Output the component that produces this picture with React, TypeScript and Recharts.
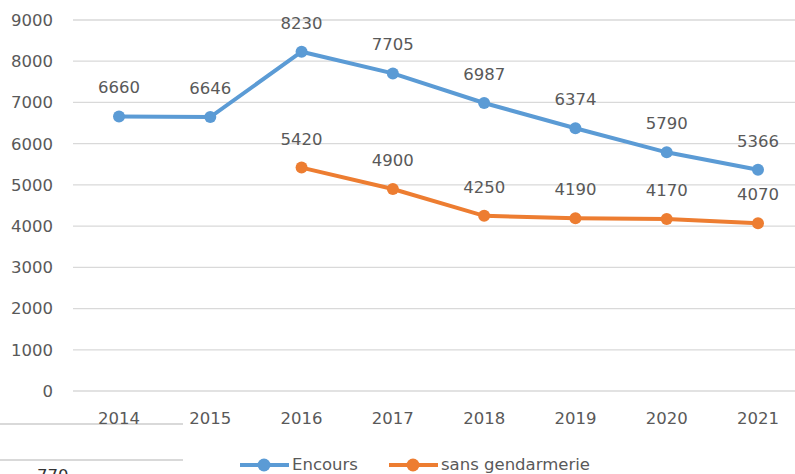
import React from 'react';
import { LineChart, Line, XAxis, YAxis, CartesianGrid, Legend, LabelList } from 'recharts';

const years = ['2014', '2015', '2016', '2017', '2018', '2019', '2020', '2021'];
const encours = [6660, 6646, 8230, 7705, 6987, 6374, 5790, 5366];
const sansGendarmerie: (number | null)[] = [null, null, 5420, 4900, 4250, 4190, 4170, 4070];
const yTicks = [0, 1000, 2000, 3000, 4000, 5000, 6000, 7000, 8000, 9000];
const seriesNames = ['Encours', 'sans gendarmerie'];
const strayText = '770';

const BLUE = '#5B9BD5';
const ORANGE = '#ED7D31';
const TEXT = '#595959';
const GRID = '#D9D9D9';
const FONT = '"DejaVu Sans", sans-serif';
const FS = 16.5;

const data = years.map((y, i) => ({ year: y, encours: encours[i], sans: sansGendarmerie[i] }));

const LegendContent = (props: any) => {
  const payload = props.payload || [];
  return (
    <div style={{ display: 'flex', flexDirection: 'row', alignItems: 'center', height: 18, fontFamily: FONT, fontSize: FS, color: TEXT }}>
      {payload.map((p: any, i: number) => (
        <div key={i} style={{ display: 'flex', alignItems: 'center', width: i === 0 ? 149 : 'auto', whiteSpace: 'nowrap' }}>
          <svg width={49} height={18} style={{ display: 'block' }}>
            <line x1={0} y1={9} x2={49} y2={9} stroke={p.color} strokeWidth={4} />
            <circle cx={24} cy={9} r={6.5} fill={p.color} />
          </svg>
          <span style={{ marginLeft: 3, lineHeight: '18px' }}>{p.value}</span>
        </div>
      ))}
    </div>
  );
};

export default function App() {
  return (
    <div style={{ position: 'absolute', left: 0, top: 0, width: 795, height: 474, overflow: 'hidden', background: '#fff' }}>
      <div style={{ position: 'absolute', left: 0, top: 423, width: 183, height: 1.5, background: GRID }} />
      <div style={{ position: 'absolute', left: 0, top: 459, width: 183, height: 1.5, background: GRID }} />
      <div style={{ position: 'absolute', left: 37, top: 466, fontFamily: FONT, fontSize: FS, color: '#333', lineHeight: '20px' }}>{strayText}</div>
      <LineChart width={810} height={474} data={data} margin={{ top: 20, right: 6, left: 0, bottom: 0 }}>
        <CartesianGrid vertical={false} stroke={GRID} strokeWidth={1.3} />
        <XAxis
          dataKey="year"
          axisLine={false}
          tickLine={false}
          tickSize={0}
          tickMargin={21}
          height={65}
          padding={{ left: 46, right: 46 }}
          tick={{ fill: TEXT, fontSize: FS, fontFamily: FONT }}
        />
        <YAxis
          domain={[0, 9000]}
          ticks={yTicks}
          width={73}
          axisLine={false}
          tickLine={false}
          tickSize={0}
          tickMargin={20}
          interval={0}
          tick={{ fill: TEXT, fontSize: FS, fontFamily: FONT }}
        />
        <Legend verticalAlign="bottom" height={18} content={<LegendContent />} wrapperStyle={{ left: 240, width: 420, bottom: 0, height: 18 }} />
        <Line
          type="linear"
          dataKey="encours"
          name={seriesNames[0]}
          stroke={BLUE}
          strokeWidth={4}
          dot={{ r: 6, fill: BLUE, stroke: BLUE, strokeWidth: 0 }}
          activeDot={false}
          isAnimationActive={false}
        >
          <LabelList dataKey="encours" position="top" offset={23} fill={TEXT} fontSize={FS} fontFamily={FONT} />
        </Line>
        <Line
          type="linear"
          dataKey="sans"
          name={seriesNames[1]}
          stroke={ORANGE}
          strokeWidth={4}
          dot={{ r: 6, fill: ORANGE, stroke: ORANGE, strokeWidth: 0 }}
          activeDot={false}
          isAnimationActive={false}
        >
          <LabelList dataKey="sans" position="top" offset={23} fill={TEXT} fontSize={FS} fontFamily={FONT} />
        </Line>
      </LineChart>
    </div>
  );
}
